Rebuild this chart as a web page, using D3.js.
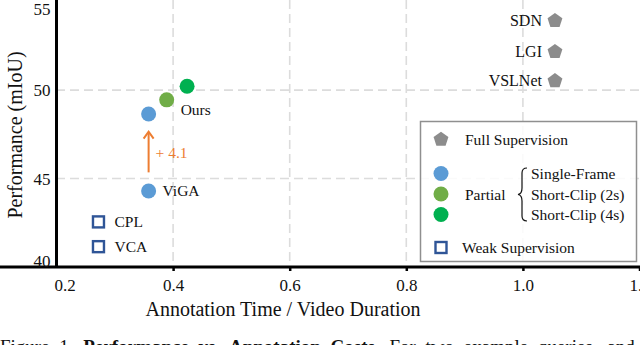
<!DOCTYPE html>
<html>
<head>
<meta charset="utf-8">
<script src="https://cdn.jsdelivr.net/npm/d3@7"></script>
<style>
  body { margin: 0; background: #fff; }
  svg { display: block; }
  svg text { font-family: "Liberation Serif", "Times New Roman", serif; }
</style>
</head>
<body>
<svg id="chart"></svg>
<script>
// methodes et leurs valeurs (temps d'annotation / duree video, mIoU)
var fullNames = ["SDN", "LGI", "VSLNet"]
var fullX = [1.055, 1.055, 1.055]
var fullY = [53.95, 52.2, 50.55]

var partialNames = ["Single-Frame", "Short-Clip (2s)", "Short-Clip (4s)"]
var partialX = [0.358, 0.389, 0.424]
var partialY = [48.65, 49.45, 50.22]
var partialColors = ["#5b9bd5", "#70ad47", "#00b050"]

var violaName = ["ViGA"]
var violaX = [0.358]
var violaY = [44.3]

var weakNames = ["CPL", "VCA"]
var weakX = [0.272, 0.272]
var weakY = [42.55, 41.15]

var xTicks = [0.2, 0.4, 0.6, 0.8, 1.0, 1.2]
var yTicks = [40, 45, 50, 55]

var gain = "+ 4.1"
var gainFrom = 45.35
var gainTo = 47.65

var canevas = d3.select("#chart").attr("width", 640).attr("height", 345)

var x = d3.scaleLinear().domain([0.2, 1.2]).range([56.5, 639.5])
var y = d3.scaleLinear().domain([40, 55]).range([267, 1.7])

var grey = "#8c8c8c"
var darkBlue = "#2f5597"
var orange = "#ed7d31"
var serif = "'Liberation Serif', 'Times New Roman', serif"

// grille en pointilles
canevas.append("g").selectAll("line")
  .data(xTicks.slice(1, 5))
  .enter().append("line")
  .attr("x1", d => x(d)).attr("x2", d => x(d))
  .attr("y1", 0).attr("y2", 267)
  .attr("style", "stroke:#dcdcdc;stroke-width:1.6;stroke-dasharray:9,5")

canevas.append("g").selectAll("line")
  .data([45, 50])
  .enter().append("line")
  .attr("x1", 56).attr("x2", 640)
  .attr("y1", d => y(d)).attr("y2", d => y(d))
  .attr("style", "stroke:#dcdcdc;stroke-width:1.6;stroke-dasharray:9,5")

// axes
var axeX = canevas.append("g")
  .attr("transform", "translate(0,267)")
  .call(d3.axisBottom(x).tickValues(xTicks).tickFormat(d3.format(".1f")).tickSize(4).tickPadding(8))
var axeY = canevas.append("g")
  .attr("transform", "translate(56.5,0)")
  .call(d3.axisLeft(y).tickValues(yTicks).tickSize(0).tickPadding(6))

axeX.attr("font-family", serif)
axeY.attr("font-family", serif)
axeX.select(".domain").attr("stroke-width", 3).attr("d", "M0,0H640")
axeY.select(".domain").attr("stroke-width", 3).attr("d", "M0,0V267")
axeX.selectAll("line").attr("stroke-width", 2.5)
axeX.selectAll(".tick").filter(d => d == 0.2).select("line").remove()
axeX.selectAll("text").style("font-size", "17px").attr("fill", "#111")
axeY.selectAll("text").style("font-size", "17px").attr("fill", "#111")
// petits decalages des etiquettes extremes
axeX.selectAll(".tick text").filter(d => d == 0.2).attr("dx", 8)
axeY.selectAll(".tick text").filter(d => d == 40).attr("dy", "-0.05em")
axeY.selectAll(".tick text").filter(d => d == 55).attr("dy", "0.78em")

// titres des axes
canevas.append("text")
  .text("Annotation Time / Video Duration")
  .attr("x", 283).attr("y", 316)
  .attr("text-anchor", "middle")
  .style("font-size", "20px").attr("fill", "#111")

canevas.append("text")
  .text("Performance (mIoU)")
  .attr("transform", "translate(22,135) rotate(-90)")
  .attr("text-anchor", "middle")
  .style("font-size", "20px").attr("fill", "#111")

// pentagone
function pentagone(cx, cy, r) {
  var pts = d3.range(5).map(function(i) {
    var a = -Math.PI / 2 + i * 2 * Math.PI / 5
    return [cx + r * Math.cos(a), cy + r * Math.sin(a)]
  })
  return d3.line()(pts) + "Z"
}

// supervision complete
fullNames.forEach(function(n, i) {
  canevas.append("path")
    .attr("d", pentagone(x(fullX[i]), y(fullY[i]) + 0.5, 7.8))
    .attr("fill", grey)
  canevas.append("text")
    .text(n)
    .attr("x", x(fullX[i]) - 13).attr("y", y(fullY[i]) + 5.5)
    .attr("text-anchor", "end")
    .style("font-size", "16px").attr("fill", "#111")
})

// fleche de gain
canevas.append("line")
  .attr("x1", x(violaX[0])).attr("x2", x(violaX[0]))
  .attr("y1", y(gainFrom)).attr("y2", y(gainTo) + 1)
  .attr("style", "stroke:" + orange + ";stroke-width:2")
canevas.append("path")
  .attr("d", "M" + (x(violaX[0]) - 5) + "," + (y(gainTo) + 7) + "L" + x(violaX[0]) + "," + y(gainTo) + "L" + (x(violaX[0]) + 5) + "," + (y(gainTo) + 7))
  .attr("style", "fill:none;stroke:" + orange + ";stroke-width:2")
canevas.append("text")
  .text(gain)
  .attr("x", x(violaX[0]) + 7).attr("y", y((gainFrom + gainTo) / 2) + 5.5)
  .style("font-size", "15.5px").attr("fill", orange)

// supervision partielle
partialNames.forEach(function(n, i) {
  canevas.append("circle")
    .attr("cx", x(partialX[i])).attr("cy", y(partialY[i]))
    .attr("r", 7.5).attr("fill", partialColors[i])
})
canevas.append("text")
  .text("Ours")
  .attr("x", x(partialX[1]) + 14).attr("y", y(partialY[0]) + 1)
  .style("font-size", "15.5px").attr("fill", "#111")

canevas.append("circle")
  .attr("cx", x(violaX[0])).attr("cy", y(violaY[0]))
  .attr("r", 7.5).attr("fill", partialColors[0])
canevas.append("text")
  .text(violaName[0])
  .attr("x", x(violaX[0]) + 14).attr("y", y(violaY[0]) + 5.5)
  .style("font-size", "15.5px").attr("fill", "#111")

// supervision faible
weakNames.forEach(function(n, i) {
  canevas.append("rect")
    .attr("x", x(weakX[i]) - 5.5).attr("y", y(weakY[i]) - 5.5)
    .attr("width", 11).attr("height", 11)
    .attr("style", "fill:#fff;stroke:" + darkBlue + ";stroke-width:2.4")
  canevas.append("text")
    .text(n)
    .attr("x", x(weakX[i]) + 16).attr("y", y(weakY[i]) + 5.5)
    .style("font-size", "15.5px").attr("fill", "#111")
})

// legende
var leg = canevas.append("g")
leg.append("rect")
  .attr("x", 420.5).attr("y", 121.5).attr("width", 216).attr("height", 140)
  .attr("style", "fill:#fff;fill-opacity:0.85;stroke:#8f8f8f;stroke-width:1.5")
leg.append("path").attr("d", pentagone(441, 139.5, 7.8)).attr("fill", grey)
leg.append("text").text("Full Supervision")
  .attr("x", 465).attr("y", 144.5).style("font-size", "15.5px").attr("fill", "#111")

partialColors.forEach(function(c, i) {
  leg.append("circle").attr("cx", 441).attr("cy", 173.5 + i * 20.5).attr("r", 7.5).attr("fill", c)
  leg.append("text").text(partialNames[i])
    .attr("x", 531).attr("y", 179 + i * 20.5).style("font-size", "15.5px").attr("fill", "#111")
})
leg.append("text").text("Partial")
  .attr("x", 465).attr("y", 199.5).style("font-size", "15.5px").attr("fill", "#111")
// accolade
leg.append("path")
  .attr("d", "M527,168 Q522,168 522,173 L522,188 Q522,194 518,194.5 Q522,195 522,201 L522,216 Q522,221 527,221")
  .attr("style", "fill:none;stroke:#111;stroke-width:1.2")

leg.append("rect").attr("x", 435.5).attr("y", 242).attr("width", 11).attr("height", 11)
  .attr("style", "fill:#fff;stroke:" + darkBlue + ";stroke-width:2.4")
leg.append("text").text("Weak Supervision")
  .attr("x", 462).attr("y", 252.5).style("font-size", "15.5px").attr("fill", "#111")

// legende de la figure (coupee en bas)
var cap = canevas.append("text")
  .attr("x", 0).attr("y", 353)
  .style("font-size", "19px").attr("fill", "#111").style("word-spacing", "5px")
cap.append("tspan").text("Figure 1. ")
cap.append("tspan").text("Performance vs. Annotation Costs.").style("font-weight", "bold")
cap.append("tspan").text(" For two example queries, and")
</script>
</body>
</html>
